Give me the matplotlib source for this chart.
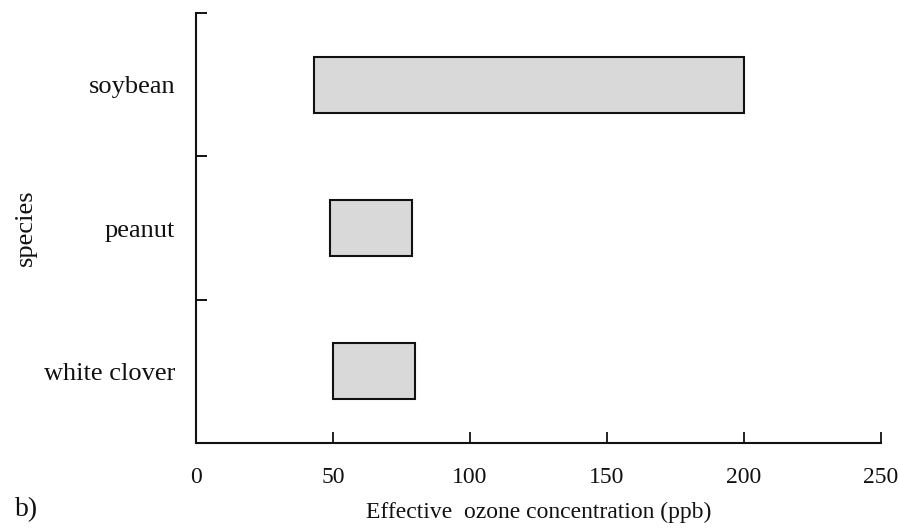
import matplotlib
matplotlib.use("Agg")
import matplotlib.pyplot as plt

species = ["white clover", "peanut", "soybean"]
starts = [50, 49, 43]
ends = [80, 79, 200]
xticks = [0, 50, 100, 150, 200, 250]

plt.rcParams['font.family'] = ['Liberation Serif', 'DejaVu Serif']

fig = plt.figure(figsize=(8.99, 5.29), dpi=100)
ax = fig.add_axes([196/899, 1-443/529, (881-196)/899, (443-13)/529])

pos = [0.5, 1.5, 2.5]
widths = [e - s for s, e in zip(starts, ends)]
ax.barh(pos, widths, left=starts, height=0.39, color='#d9d9d9',
        edgecolor='#111111', linewidth=1.5)

ax.set_xlim(0, 250)
ax.set_ylim(0, 3)
ax.set_xticks(xticks)
ax.set_xticklabels([str(t) for t in xticks])
ax.tick_params(axis='x', direction='in', length=8, width=1.3, pad=17,
               labelsize=17, colors='#111111')

ax.set_yticks([1, 2, 3])
ax.set_yticklabels([])
ax.tick_params(axis='y', which='major', direction='in', length=8, width=1.3)
ax.set_yticks(pos, minor=True)
ax.set_yticklabels(species, minor=True)
ax.tick_params(axis='y', which='minor', length=0, pad=15, labelsize=19,
               colors='#111111')

for s in ['top', 'right']:
    ax.spines[s].set_visible(False)
for s in ['left', 'bottom']:
    ax.spines[s].set_linewidth(1.5)
    ax.spines[s].set_color('#111111')

ax.set_ylabel("species", fontsize=19, labelpad=5, color='#111111')
ax.set_xlabel("Effective  ozone concentration (ppb)", fontsize=17,
              labelpad=10, color='#111111')

fig.text(15/899, 1-510/529, "b)", fontsize=20, va='center', ha='left',
         color='#111111')

fig.savefig("out.png", dpi=100)
